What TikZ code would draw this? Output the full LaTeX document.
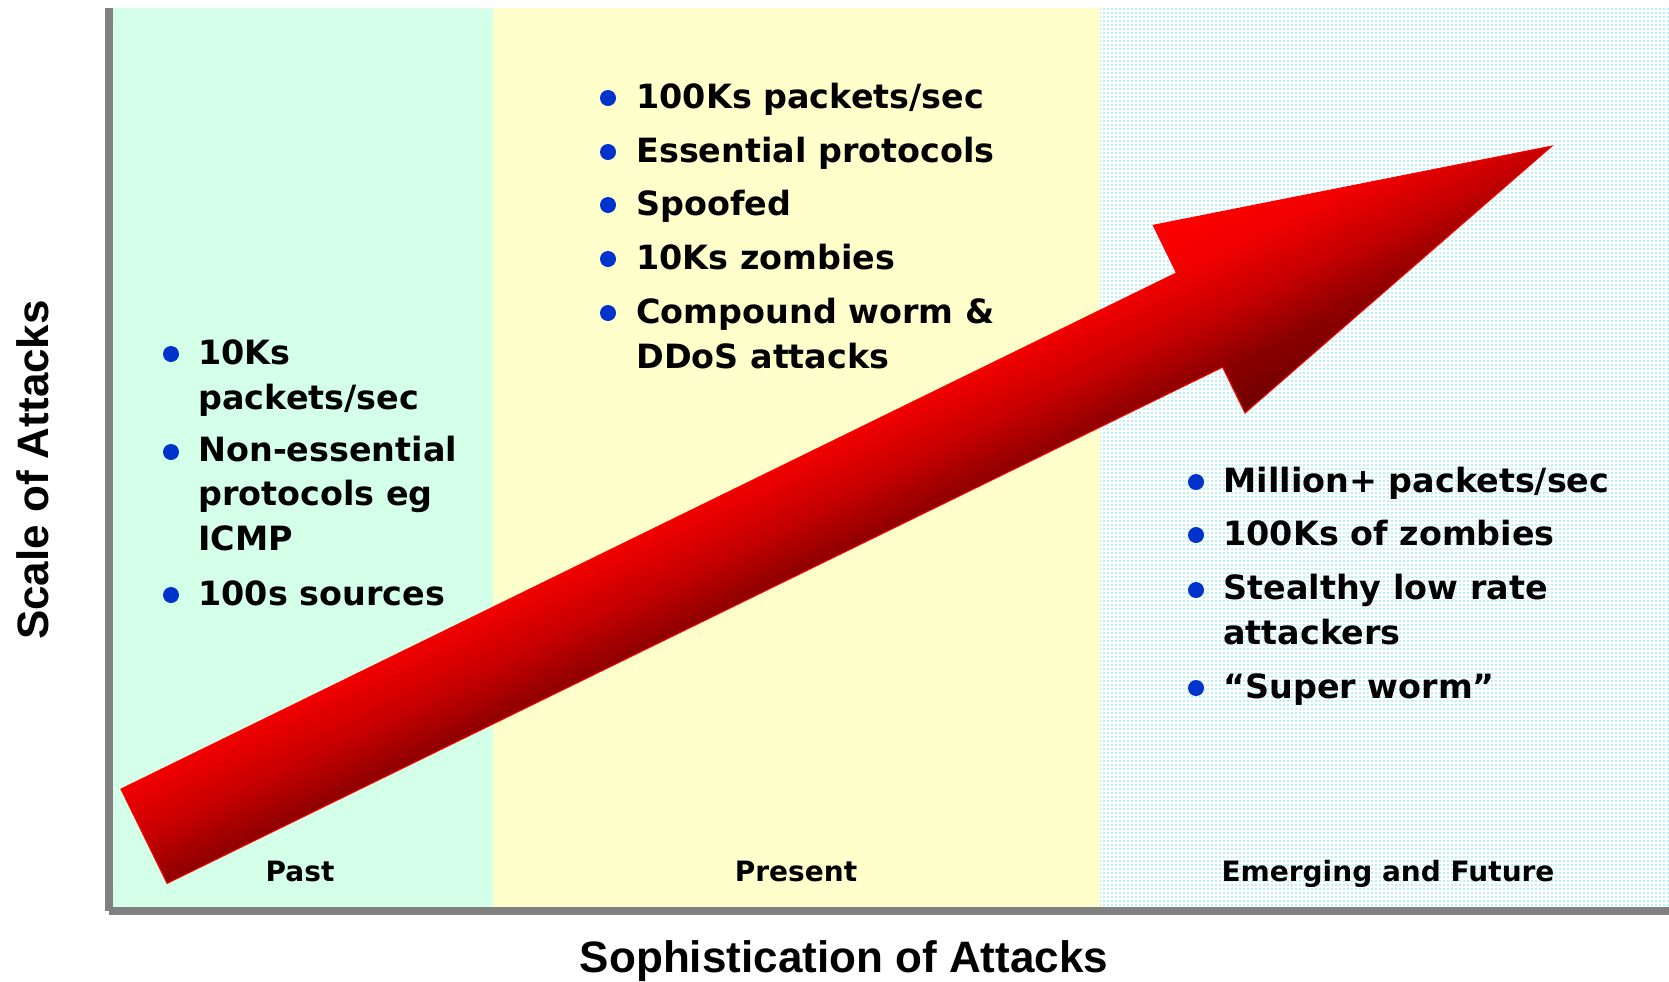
\documentclass[tikz,border=0pt]{standalone}
\usepackage{fontspec}
\newfontfamily\listfont{DejaVu Sans}
\newfontfamily\titlefont{Liberation Sans}
\usetikzlibrary{patterns.meta}

\definecolor{pastgreen}{RGB}{212,255,232}
\definecolor{nowyellow}{RGB}{255,255,204}
\definecolor{futurecyan}{RGB}{110,230,240}
\definecolor{axisgray}{RGB}{128,128,128}
\definecolor{dotblue}{RGB}{0,51,204}
\definecolor{arrowred}{RGB}{255,0,0}
\definecolor{arrowhigh}{RGB}{240,0,0}
\definecolor{arrowmid}{RGB}{200,0,0}
\definecolor{arrowlow}{RGB}{140,0,0}
\definecolor{arrowdark}{RGB}{110,0,0}

% shading across the arrow, dark below and red on top
\pgfdeclareverticalshading{arrowshade}{100bp}{%
  color(0bp)=(arrowdark); color(25bp)=(arrowdark);
  color(37bp)=(arrowlow); color(50bp)=(arrowmid);
  color(62bp)=(arrowhigh); color(75bp)=(arrowred); color(100bp)=(arrowred)}

\begin{document}
\begin{tikzpicture}[x=0.5pt, y=-0.5pt,
    dot/.style={circle, fill=dotblue, inner sep=0pt, minimum size=8pt},
    item/.style={anchor=base west, align=left, inner sep=0pt,
        font=\listfont\bfseries\fontsize{16.7pt}{22.2pt}\selectfont},
    era/.style={anchor=base, inner sep=0pt,
        font=\listfont\bfseries\fontsize{14pt}{17pt}\selectfont},
    axistitle/.style={anchor=base, inner sep=0pt,
        font=\titlefont\bfseries\fontsize{22pt}{26pt}\selectfont}]
    \useasboundingbox (0,0) rectangle (1669,981);

    % Background bands
    \fill[pastgreen] (113,8) rectangle (493,907);
    \fill[nowyellow] (493,8) rectangle (1100,907);
    \fill[white] (1100,8) rectangle (1669,907);
    \fill[pattern={Dots[distance=2pt, radius=0.4pt]}, pattern color=futurecyan]
        (1100,8) rectangle (1669,907);

    % Axes
    \fill[axisgray] (105,8) rectangle (113,911);
    \fill[axisgray] (109,907) rectangle (1669,915);

    % Big arrow, drawn along its own axis
    \begin{scope}[x=0.5pt, y=0.5pt, transform canvas={rotate=26.06}]
        \shadedraw[shading=arrowshade, draw=arrowred, line width=0.5pt]
            (-238,-762) -- (937,-762) -- (937,-709) -- (1330,-813)
            -- (937,-918) -- (937,-867) -- (-238,-867) -- cycle;
    \end{scope}

    % Past (multi-line items sit on their last baseline)
    \node[dot] (d-past1) at (171,354) {};
    \node[item] (past1) at (198,409) {10Ks\\packets/sec};
    \node[dot] (d-past2) at (171,452) {};
    \node[item] (past2) at (198,550) {Non-essential\\protocols eg\\ICMP};
    \node[dot] (d-past3) at (171,595) {};
    \node[item] (past3) at (198,605) {100s sources};

    % Present
    \node[dot] (d-now1) at (608,98) {};
    \node[item] (now1) at (636,108) {100Ks packets/sec};
    \node[dot] (d-now2) at (608,152) {};
    \node[item] (now2) at (636,162) {Essential protocols};
    \node[dot] (d-now3) at (608,205) {};
    \node[item] (now3) at (636,215) {Spoofed};
    \node[dot] (d-now4) at (608,259) {};
    \node[item] (now4) at (636,269) {10Ks zombies};
    \node[dot] (d-now5) at (608,313) {};
    \node[item] (now5) at (636,368) {Compound worm \&\\DDoS attacks};

    % Emerging and future
    \node[dot] (d-next1) at (1196,482) {};
    \node[item] (next1) at (1223,492) {Million+ packets/sec};
    \node[dot] (d-next2) at (1196,535) {};
    \node[item] (next2) at (1223,545) {100Ks of zombies};
    \node[dot] (d-next3) at (1196,590) {};
    \node[item] (next3) at (1223,644) {Stealthy low rate\\attackers};
    \node[dot] (d-next4) at (1196,688) {};
    \node[item] (next4) at (1223,698) {“Super worm”};

    % Era names
    \node[era] (past) at (300,881) {Past};
    \node[era] (present) at (796,881) {Present};
    \node[era] (future) at (1388,881) {Emerging and Future};

    % Axis titles
    \node[axistitle] (xtitle) at (844,972) {Sophistication of Attacks};
    \node[axistitle, rotate=90] (ytitle) at (48,470) {Scale of Attacks};
\end{tikzpicture}
\end{document}
